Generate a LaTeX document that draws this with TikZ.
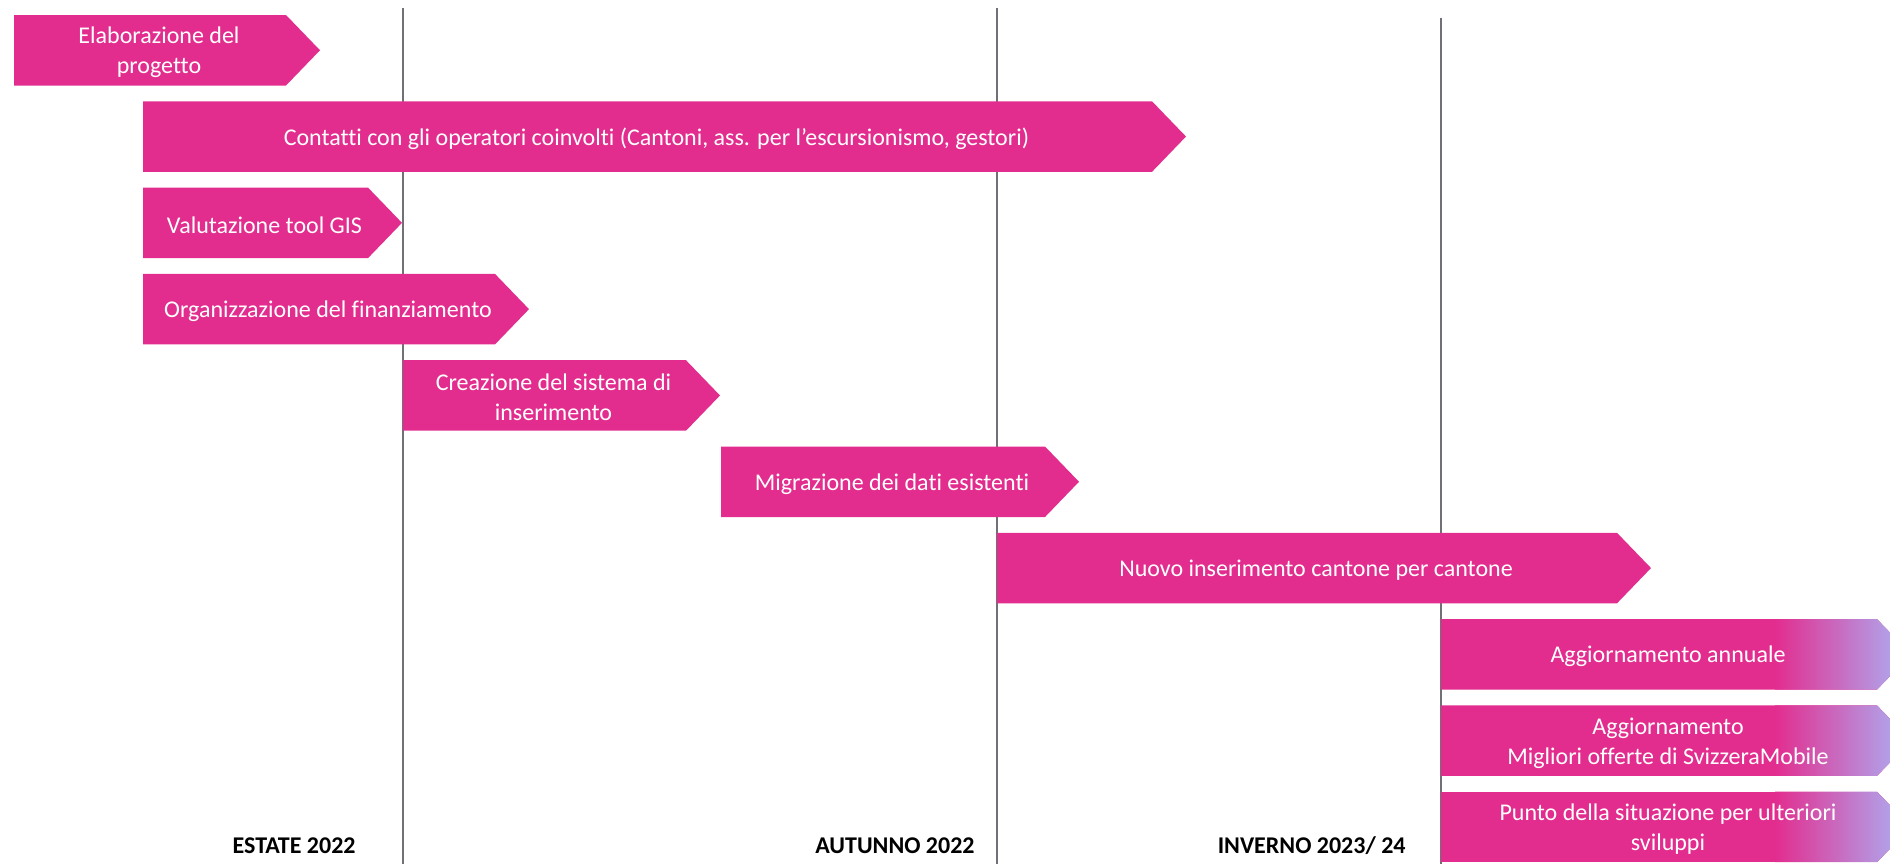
\documentclass[tikz,border=0pt]{standalone}
\usepackage{fontspec}
\setmainfont{Carlito}[Ligatures=NoCommon]
\definecolor{mag}{RGB}{226,45,143}
\definecolor{lav}{RGB}{178,160,232}
\definecolor{gridgray}{RGB}{112,112,118}
\newcommand\taskbar[5]{% name, left, body end, top, text
  \fill[mag] (#2,#4) -- (#3,#4) -- (#3+34,#4+35.25) -- (#3,#4+70.5) -- (#2,#4+70.5) -- cycle;
  \node[bartext] (#1) at ({(#2+#3+34)/2-8},#4+37.5) {#5};}
\newcommand\fadebar[3]{% name, top, text
  \begin{scope}
    \clip (1441,#2) -- (1877,#2) -- (1911,#2+35.25) -- (1877,#2+70.5) -- (1441,#2+70.5) -- cycle;
    \fill[mag] (1441,#2) rectangle (1912,#2+70.5);
    \shade[left color=mag,right color=lav] (1775,#2) rectangle (1891,#2+70.5);
  \end{scope}
  \node[bartext] (#1) at (1668,#2+37.5) {#3};}
\begin{document}
\begin{tikzpicture}[x=0.5pt,y=-0.5pt,
  bartext/.style={text=white,font=\fontsize{12}{15}\selectfont,align=center,inner sep=0pt},
  periodlabel/.style={font=\bfseries\fontsize{12}{14}\selectfont,anchor=base east,inner sep=0pt},
  gridline/.style={draw=gridgray,line width=1.35pt}]
\useasboundingbox (0,0) rectangle (1890,864);
% period separators
\coordinate (g1t) at (403,8);   \coordinate (g1b) at (403,864);
\coordinate (g2t) at (997,8);   \coordinate (g2b) at (997,864);
\coordinate (g3t) at (1441,18); \coordinate (g3b) at (1441,864);
\draw[gridline] (g1t) -- (g1b);
\draw[gridline] (g2t) -- (g2b);
\draw[gridline] (g3t) -- (g3b);
% tasks
\taskbar{t1}{14}{286}{15}{Elaborazione del\\progetto}
\taskbar{t2}{143}{1152}{101.3}{Contatti con gli operatori coinvolti (Cantoni, ass. per l’escursionismo, gestori)}
\taskbar{t3}{143}{368}{187.6}{Valutazione tool GIS}
\taskbar{t4}{143}{495}{273.9}{Organizzazione del finanziamento}
\taskbar{t5}{403}{686}{360.2}{Creazione del sistema di\\inserimento}
\taskbar{t6}{721}{1045}{446.5}{Migrazione dei dati esistenti}
\taskbar{t7}{997}{1617}{532.8}{Nuovo inserimento cantone per cantone}
\fadebar{t8}{619.1}{Aggiornamento annuale}
\fadebar{t9}{705.4}{Aggiornamento\\Migliori offerte di SvizzeraMobile}
\fadebar{t10}{791.7}{Punto della situazione per ulteriori\\sviluppi}
% period labels
\node[periodlabel] (p1) at (356,853) {ESTATE 2022};
\node[periodlabel] (p2) at (975,853) {AUTUNNO 2022};
\node[periodlabel] (p3) at (1406,853) {INVERNO 2023/ 24};
\end{tikzpicture}
\end{document}
